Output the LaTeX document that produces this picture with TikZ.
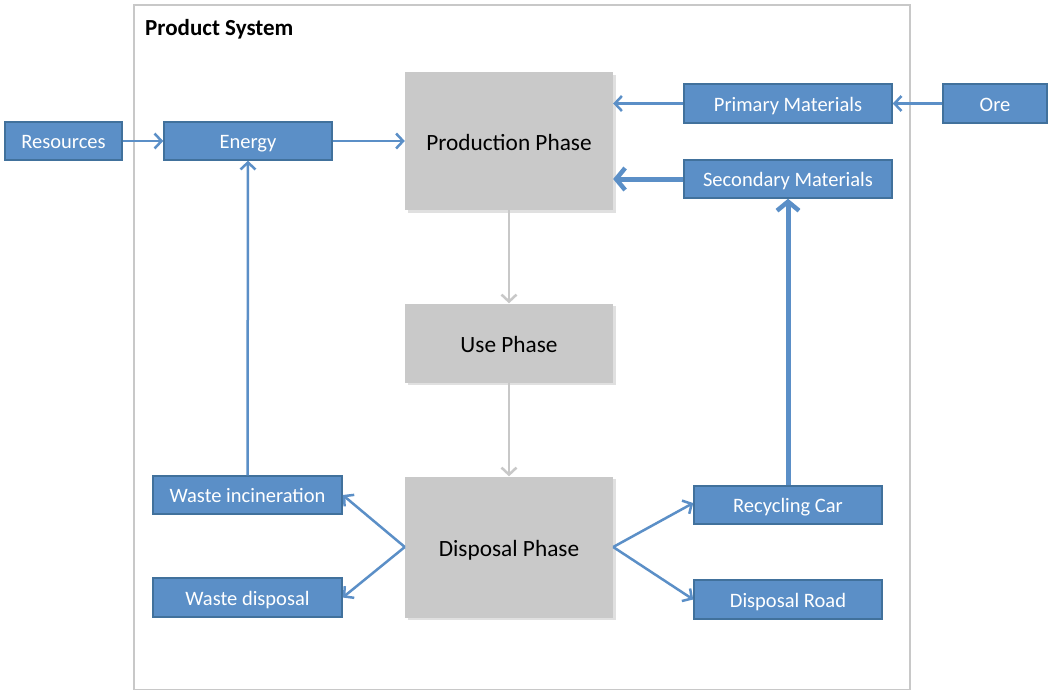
\documentclass[tikz,border=0pt]{standalone}
\usepackage{fontspec}
\setmainfont{Carlito}
\usetikzlibrary{arrows.meta}
\definecolor{bfill}{HTML}{5B8FC7}
\definecolor{bdraw}{HTML}{41719C}
\definecolor{arr}{HTML}{5B8FC7}
\definecolor{gfill}{HTML}{C9C9C9}
\definecolor{gline}{HTML}{C8C8C8}
\tikzset{
  bluebox/.style={draw=bdraw, line width=1.5pt, fill=bfill, text=white, font=\fontsize{20.5}{24}\selectfont, inner sep=0pt, anchor=center, text height=15pt, text depth=0pt},
  graybox/.style={fill=gfill, font=\fontsize{23.3}{28}\selectfont, inner sep=0pt, anchor=center, text=black, text height=18pt, text depth=0pt},
  bluearrow/.style={draw=arr, line width=2.5pt, -{Straight Barb[length=7pt,width=15pt,line width=2.5pt]}},
  thickarrow/.style={draw=arr, line width=5pt, -{Straight Barb[length=9pt,width=22pt,line width=4.5pt]}},
  grayarrow/.style={draw=gline, line width=2.5pt, -{Straight Barb[length=7pt,width=15pt,line width=2.5pt]}},
}
\begin{document}
\begin{tikzpicture}[x=1pt,y=-1pt]
\useasboundingbox (0,0) rectangle (1049,689);
\fill[white] (0,0) rectangle (1049,689);
\draw[gline, line width=2.5pt] (134,5) rectangle (910,690);
\node[font=\bfseries\fontsize{23}{27}\selectfont, anchor=west, inner sep=0pt] (title) at (145,29) {Product System};

% gray boxes with shadow
\fill[black!12] (408,75) rectangle (616,213);
\fill[black!12] (408,306) rectangle (616,385);
\fill[black!12] (408,479) rectangle (616,620);
\node[graybox, minimum width=208pt, minimum height=138pt] (prod) at (509,141) {Production Phase};
\node[graybox, minimum width=208pt, minimum height=79pt] (use) at (509,343) {Use Phase};
\node[graybox, minimum width=208pt, minimum height=141pt] (disp) at (509,547) {Disposal Phase};

% blue boxes
\node[bluebox, minimum width=117pt, minimum height=38pt] (res) at (63.5,141) {Resources};
\node[bluebox, minimum width=168pt, minimum height=38pt] (energy) at (248,141) {Energy};
\node[bluebox, minimum width=208pt, minimum height=39pt] (prim) at (788,103.5) {Primary Materials};
\node[bluebox, minimum width=104pt, minimum height=39pt] (ore) at (995,103.5) {Ore};
\node[bluebox, minimum width=208pt, minimum height=38pt] (sec) at (788,179) {Secondary Materials};
\node[bluebox, minimum width=189pt, minimum height=38pt] (winc) at (247.5,495) {Waste incineration};
\node[bluebox, minimum width=189pt, minimum height=39pt] (wdis) at (247.5,597.5) {Waste disposal};
\node[bluebox, minimum width=188pt, minimum height=38pt] (rcar) at (788,505) {Recycling Car};
\node[bluebox, minimum width=188pt, minimum height=39pt] (droad) at (788,599.5) {Disposal Road};

% arrows
\draw[bluearrow] (res.east) -- (energy.west);
\draw[bluearrow] (energy.east) -- (energy.east -| prod.west);
\draw[bluearrow] (ore.west) -- (prim.east);
\draw[bluearrow] (prim.west) -- (prim.west -| prod.east);
\draw[thickarrow] (sec.west) -- (sec.west -| prod.east);
\draw[grayarrow] (prod.south) -- (use.north);
\draw[grayarrow] (use.south) -- (disp.north);
\draw[bluearrow] (winc.north) -- (energy.south);
\draw[thickarrow] (rcar.north) -- (sec.south);
\draw[bluearrow] (disp.west) -- (winc.east);
\draw[bluearrow] (disp.west) -- (wdis.east);
\draw[bluearrow] (disp.east) -- ([yshift=2pt]rcar.west);
\draw[bluearrow] (disp.east) -- (droad.west);
\end{tikzpicture}
\end{document}
